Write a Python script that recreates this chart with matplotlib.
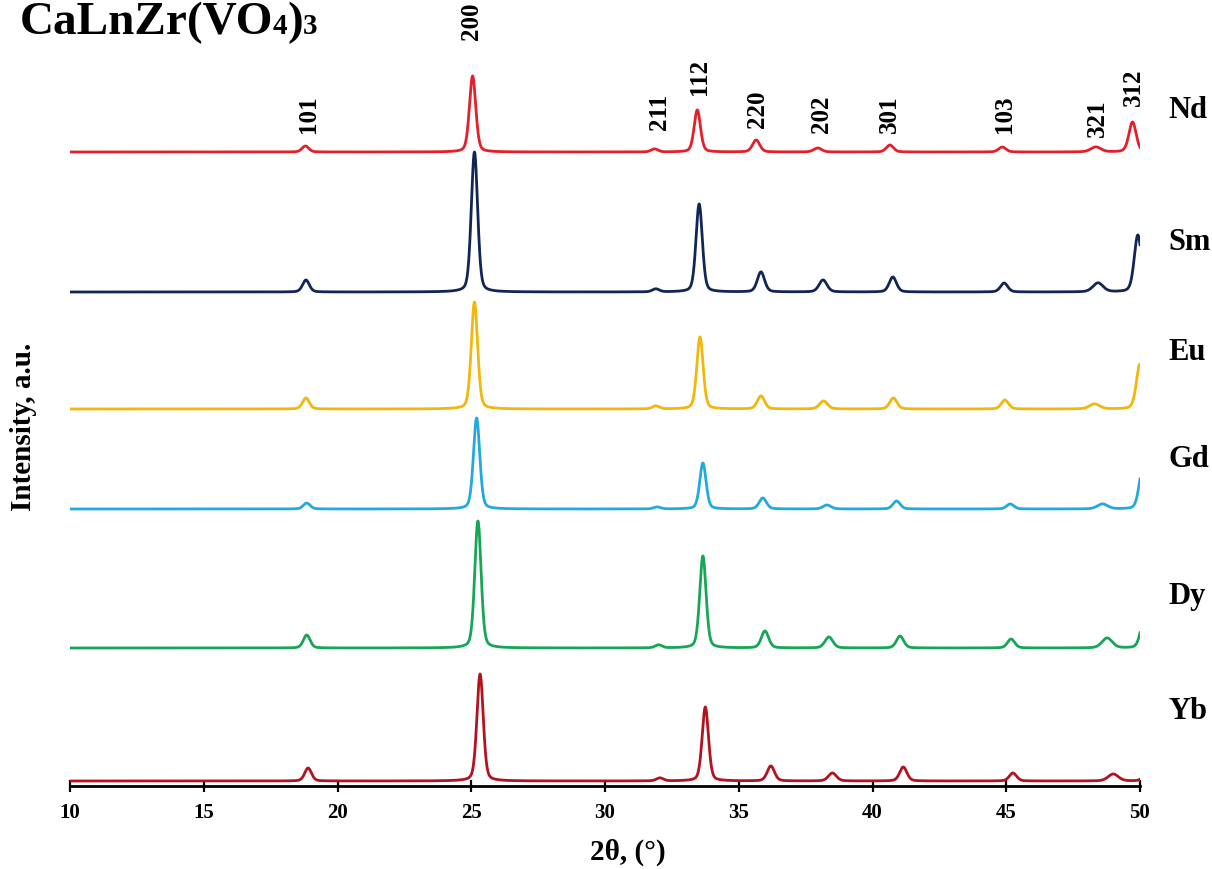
import numpy as np
import matplotlib.pyplot as plt
from matplotlib.offsetbox import TextArea, HPacker, AnchoredOffsetbox

plt.rcParams['font.family'] = ['Liberation Serif', 'DejaVu Serif']
plt.rcParams['font.weight'] = 'bold'

samples = ["Nd", "Sm", "Eu", "Gd", "Dy", "Yb"]
colors = ["#e3202a", "#112657", "#f2b70a", "#22aade", "#17a655", "#b3121f"]
offsets = [634, 494, 377, 277, 138, 5]

hkl = ["101", "200", "211", "112", "220", "202", "301", "103", "321", "312"]

# peak centres (2theta, deg) and heights (a.u.) for each sample, hkl order
nd_pos = [18.80, 25.05, 31.85, 33.45, 35.65, 37.95, 40.65, 44.85, 48.35, 49.72]
nd_int = [6, 76, 3, 42, 12, 4, 7, 5, 5, 30]
sm_pos = [18.82, 25.12, 31.90, 33.52, 35.83, 38.15, 40.76, 44.92, 48.43, 49.92]
sm_int = [12, 140, 3, 88, 20, 12, 15, 9, 9, 57]
eu_pos = [18.82, 25.12, 31.90, 33.55, 35.83, 38.17, 40.78, 44.95, 48.30, 50.00]
eu_int = [11, 107, 3, 72, 13, 8, 11, 9, 5, 45]
gd_pos = [18.85, 25.20, 31.95, 33.66, 35.90, 38.30, 40.90, 45.15, 48.60, 50.10]
gd_int = [6, 91, 2, 46, 11, 4, 8, 5, 5, 40]
dy_pos = [18.85, 25.25, 32.00, 33.66, 35.98, 38.37, 41.03, 45.18, 48.77, 50.15]
dy_int = [13, 127, 3, 92, 17, 11, 12, 9, 10, 28]
yb_pos = [18.90, 25.33, 32.05, 33.75, 36.20, 38.50, 41.15, 45.25, 49.00, 50.25]
yb_int = [13, 107, 3, 74, 15, 8, 14, 8, 7, 8]

fwhm = [0.30, 0.28, 0.30, 0.28, 0.32, 0.35, 0.32, 0.32, 0.45, 0.32]

peak_pos = [nd_pos, sm_pos, eu_pos, gd_pos, dy_pos, yb_pos]
peak_int = [nd_int, sm_int, eu_int, gd_int, dy_int, yb_int]

# hkl label anchors (x in deg, y = lower end of the rotated text)
label_x = [18.9, 25.0, 32.05, 33.55, 35.7, 38.1, 40.65, 44.95, 48.4, 49.75]
label_y = [654, 747, 657, 692, 659, 654, 654, 654, 650, 681]
name_y = [677, 544, 434, 327, 190, 75]


def profile(two_theta, centres, heights, widths, eta=0.3):
    """Pseudo-Voigt sum for a list of reflections."""
    y = np.zeros_like(two_theta)
    for c, h, w in zip(centres, heights, widths):
        hw = w / 2
        lor = 1 / (1 + ((two_theta - c) / hw) ** 2)
        gau = np.exp(-np.log(2) * ((two_theta - c) / hw) ** 2)
        y += h * (eta * lor + (1 - eta) * gau)
    return y


tt = np.arange(10, 50.0001, 0.01)

fig = plt.figure(figsize=(12.12, 8.70), dpi=100)
ax = fig.add_axes([70 / 1212, 1 - 787 / 870, 1070 / 1212, 767 / 870])

for i, (name, col, off) in enumerate(zip(samples, colors, offsets)):
    ax.plot(tt, off + profile(tt, peak_pos[i], peak_int[i], fwhm), color=col, lw=2.0)
    ax.text(51.05, name_y[i], name, fontsize=22, fontweight='bold',
            ha='left', va='center', clip_on=False)

for lab, lx, ly in zip(hkl, label_x, label_y):
    ax.text(lx, ly, lab, rotation=90, fontsize=18, fontweight='bold',
            ha='center', va='bottom', clip_on=False)

ax.set_xlim(10, 50)
ax.set_ylim(0, 767)
ax.set_xticks(np.arange(10, 51, 5))
ax.set_yticks([])
for side in ['left', 'top', 'right']:
    ax.spines[side].set_visible(False)
ax.spines['bottom'].set_linewidth(2)
ax.tick_params(axis='x', direction='inout', length=9, width=1.6, labelsize=15, pad=7)
for t in ax.get_xticklabels():
    t.set_fontweight('bold')

ax.set_xlabel("2θ, (°)", fontsize=21, fontweight='bold')
ax.xaxis.set_label_coords((628 - 70) / 1070, -(852 - 787) / 767)
ax.xaxis.label.set_va('center')
ax.set_ylabel("Intensity, a.u.", fontsize=21, fontweight='bold')
ax.yaxis.set_label_coords(-(70 - 24) / 1070, (787 - 427) / 767)
ax.yaxis.label.set_va('center')

# formula title with smaller digits on the baseline
parts = [("CaLnZr(VO", 34), ("4", 21), (")", 34), ("3", 21)]
boxes = [TextArea(s, textprops=dict(fontsize=fs, fontweight='bold')) for s, fs in parts]
title = HPacker(children=boxes, align="baseline", pad=0, sep=0)
anch = AnchoredOffsetbox(loc='upper left', child=title, frameon=False,
                         bbox_to_anchor=(14 / 1212, 1 + 4 / 870),
                         bbox_transform=fig.transFigure, borderpad=0)
fig.add_artist(anch)

fig.savefig("out.png", dpi=100, facecolor='white')
